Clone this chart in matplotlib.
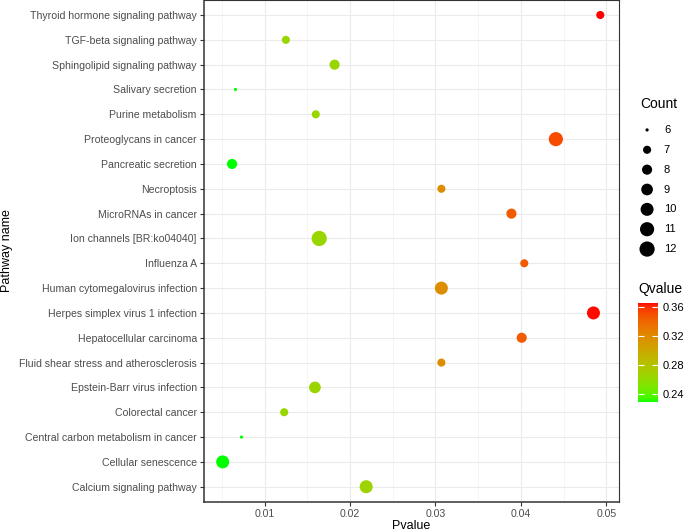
import numpy as np
import matplotlib
matplotlib.use("Agg")
from matplotlib import pyplot as plt
from matplotlib.colors import ListedColormap, Normalize

plt.rcParams['font.family'] = ['Liberation Sans Narrow', 'Liberation Sans', 'DejaVu Sans']

# bottom to top (alphabetical, as ggplot orders the factor)
pathways = [
    "Calcium signaling pathway",
    "Cellular senescence",
    "Central carbon metabolism in cancer",
    "Colorectal cancer",
    "Epstein-Barr virus infection",
    "Fluid shear stress and atherosclerosis",
    "Hepatocellular carcinoma",
    "Herpes simplex virus 1 infection",
    "Human cytomegalovirus infection",
    "Influenza A",
    "Ion channels [BR:ko04040]",
    "MicroRNAs in cancer",
    "Necroptosis",
    "Pancreatic secretion",
    "Proteoglycans in cancer",
    "Purine metabolism",
    "Salivary secretion",
    "Sphingolipid signaling pathway",
    "TGF-beta signaling pathway",
    "Thyroid hormone signaling pathway",
]
pvalue = [0.0219, 0.0051, 0.0073, 0.0123, 0.0159, 0.0307, 0.0401, 0.0485, 0.0307, 0.0404,
          0.0164, 0.0389, 0.0307, 0.0062, 0.0441, 0.0160, 0.0066, 0.0182, 0.0125, 0.0493]
count = [10, 10, 6, 7, 9, 7, 8, 10, 10, 7,
         12, 8, 7, 8, 11, 7, 6, 8, 7, 7]
qvalue = [0.266, 0.229, 0.229, 0.264, 0.265, 0.318, 0.345, 0.365, 0.318, 0.345,
          0.264, 0.345, 0.318, 0.229, 0.352, 0.265, 0.229, 0.265, 0.265, 0.366]

count_breaks = [6, 7, 8, 9, 10, 11, 12]
q_ticks = [0.24, 0.28, 0.32, 0.36]


# green -> red gradient interpolated in CIELAB, like scale_colour_gradient
def rgb2lab(c):
    c = np.asarray(c, float)
    lin = np.where(c > 0.04045, ((c + 0.055) / 1.055) ** 2.4, c / 12.92)
    m = np.array([[0.4124, 0.3576, 0.1805], [0.2126, 0.7152, 0.0722], [0.0193, 0.1192, 0.9505]])
    xyz = m @ lin / np.array([0.95047, 1.0, 1.08883])
    f = np.where(xyz > 0.008856, np.cbrt(xyz), 7.787 * xyz + 16 / 116)
    return np.array([116 * f[1] - 16, 500 * (f[0] - f[1]), 200 * (f[1] - f[2])])


def lab2rgb(lab):
    L, a, b = lab
    fy = (L + 16) / 116
    f = np.array([fy + a / 500, fy, fy - b / 200])
    xyz = np.where(f ** 3 > 0.008856, f ** 3, (f - 16 / 116) / 7.787) * np.array([0.95047, 1.0, 1.08883])
    mi = np.array([[3.2406, -1.5372, -0.4986], [-0.9689, 1.8758, 0.0415], [0.0557, -0.2040, 1.0570]])
    lin = np.clip(mi @ xyz, 0, 1)
    c = np.where(lin > 0.0031308, 1.055 * lin ** (1 / 2.4) - 0.055, 12.92 * lin)
    return np.clip(c, 0, 1)


lo, hi = rgb2lab([0, 1, 0]), rgb2lab([1, 0, 0])
cmap = ListedColormap([lab2rgb(lo + (hi - lo) * t) for t in np.linspace(0, 1, 256)])
norm = Normalize(vmin=min(qvalue), vmax=max(qvalue))


def dot_size(c):
    c = np.asarray(c, float)
    d_px = 3.2 + 12.0 * np.sqrt((c - 6) / 6.0)
    d_pt = d_px * 72 / 100
    return d_pt ** 2


fig = plt.figure(figsize=(6.85, 5.32), dpi=100)
ax = fig.add_axes([0.2975, 0.0571, 0.6064, 0.9427])

y = np.arange(len(pathways))
ax.scatter(pvalue, y, s=dot_size(count), c=qvalue, cmap=cmap, norm=norm,
           linewidths=0, zorder=3)

ax.set_ylim(-0.6, len(pathways) - 0.4)
span = max(pvalue) - min(pvalue)
ax.set_xlim(min(pvalue) - 0.05 * span, max(pvalue) + 0.05 * span)
ax.set_yticks(y)
ax.set_yticklabels(pathways)
ax.set_xticks([0.01, 0.02, 0.03, 0.04, 0.05])
ax.set_xticklabels(["0.01", "0.02", "0.03", "0.04", "0.05"])
ax.set_xticks([0.005, 0.015, 0.025, 0.035, 0.045], minor=True)
ax.grid(True, which='major', color='#EBEBEB', linewidth=0.8, zorder=0)
ax.grid(True, which='minor', axis='x', color='#F2F2F2', linewidth=0.5, zorder=0)
ax.set_axisbelow(True)
ax.tick_params(axis='both', which='major', length=3, width=0.8, color='#333333',
               labelsize=7.6, labelcolor='#4D4D4D', pad=2)
ax.tick_params(axis='x', which='minor', length=0)
for side in ax.spines:
    ax.spines[side].set_color('#333333')
    ax.spines[side].set_linewidth(0.8)
ax.spines['left'].set_linewidth(1.1)
ax.spines['bottom'].set_linewidth(1.1)
ax.set_xlabel("Pvalue", fontsize=9, va='center')
ax.xaxis.set_label_coords(0.5, -0.0487)
ax.set_ylabel("Pathway name", fontsize=9, va='center')
ax.yaxis.set_label_coords(-0.474, 0.5)

# size legend
fig.text(640 / 685, 1 - 104 / 532, "Count", fontsize=10, ha='left', va='center')
lax = fig.add_axes([637 / 685, 1 - 259 / 532, 48 / 685, 139 / 532])
lax.set_xlim(0, 1)
lax.set_ylim(len(count_breaks) - 0.5, -0.5)
lax.scatter([0.21] * len(count_breaks), range(len(count_breaks)),
            s=dot_size(count_breaks), c='black', linewidths=0)
for i, b in enumerate(count_breaks):
    lax.text(0.56, i, str(b), fontsize=8, ha='left', va='center')
lax.axis('off')

# colour bar
fig.text(638 / 685, 1 - 289 / 532, "Qvalue", fontsize=10, ha='left', va='center')
cax = fig.add_axes([638 / 685, 1 - 402 / 532, 20 / 685, 99 / 532])
sm = plt.cm.ScalarMappable(norm=norm, cmap=cmap)
cb = fig.colorbar(sm, cax=cax, ticks=q_ticks)
cb.outline.set_visible(False)
cb.ax.set_yticklabels([f"{t:.2f}" for t in q_ticks])
cb.ax.tick_params(direction='in', color='white', length=4, width=0.8,
                  left=True, right=True, labelsize=8, pad=3)

fig.savefig("out.png", dpi=100)
